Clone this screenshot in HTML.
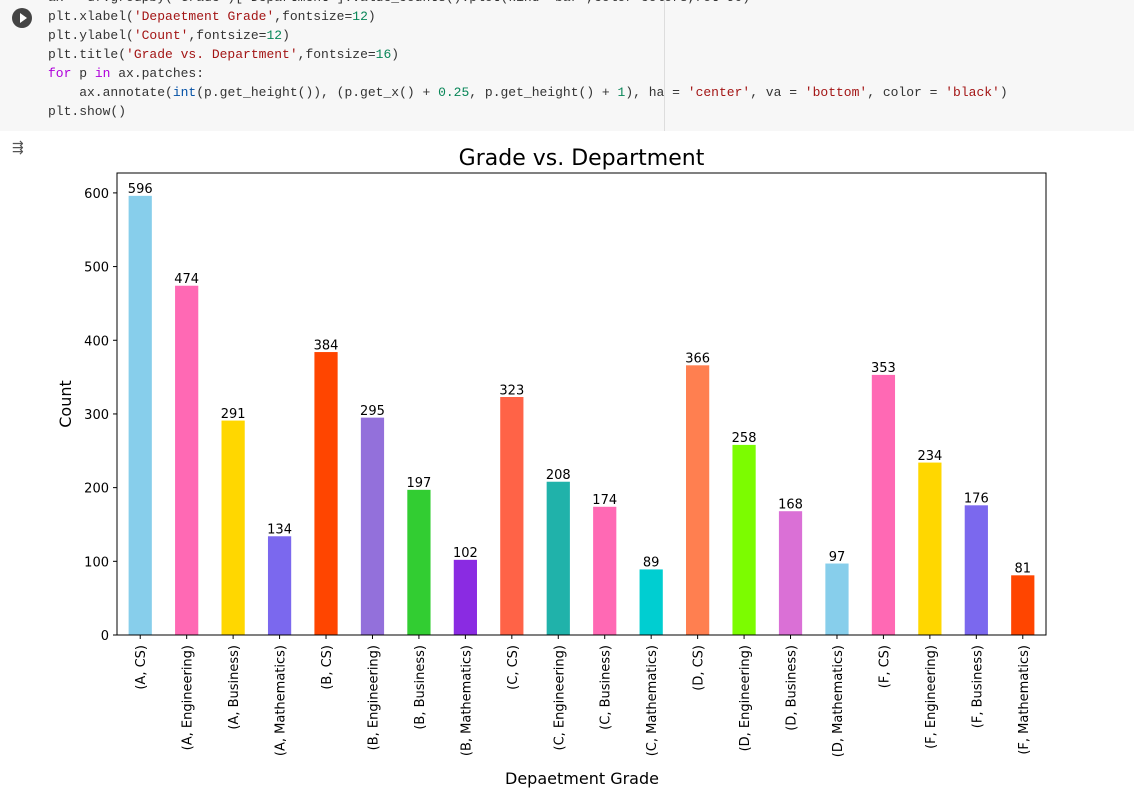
<!DOCTYPE html>
<html><head><meta charset="utf-8"><style>
body{margin:0;width:1134px;height:803px;background:#fff;overflow:hidden;position:relative;font-family:"DejaVu Sans","Liberation Sans",sans-serif}
#code{position:absolute;left:0;top:0;width:1134px;height:131px;background:#f7f7f7}
#code pre{margin:0;position:absolute;left:48px;top:-12px;font:13px/19px "Liberation Mono","DejaVu Sans Mono",monospace;color:#333}
.s{color:#a31515}.n{color:#098658}.k{color:#af00db}.b{color:#0451a5}
#vline{position:absolute;left:664px;top:0;width:1px;height:131px;background:#ddd}
#run{position:absolute;left:12px;top:8px;width:20px;height:20px;border-radius:50%;background:#444}
#run:after{content:"";position:absolute;left:8px;top:5px;border-left:7px solid #fff;border-top:5px solid transparent;border-bottom:5px solid transparent}
#outicon{position:absolute;left:12px;top:140px;font-size:14px;color:#555}
svg{position:absolute;left:0;top:0}
</style></head><body>
<div id="code"><pre>ax = df.groupby('Grade')['Department'].value_counts().plot(kind='bar',color=colors,rot=90)
plt.xlabel(<span class="s">'Depaetment Grade'</span>,fontsize=<span class="n">12</span>)
plt.ylabel(<span class="s">'Count'</span>,fontsize=<span class="n">12</span>)
plt.title(<span class="s">'Grade vs. Department'</span>,fontsize=<span class="n">16</span>)
<span class="k">for</span> p <span class="k">in</span> ax.patches:
    ax.annotate(<span class="b">int</span>(p.get_height()), (p.get_x() + <span class="n">0.25</span>, p.get_height() + <span class="n">1</span>), ha = <span class="s">'center'</span>, va = <span class="s">'bottom'</span>, color = <span class="s">'black'</span>)
plt.show()</pre></div>
<div id="vline"></div>
<div id="run"></div>
<div id="outicon">⇶</div>
<svg id="chart" width="1134" height="803"></svg>
<script>
const categories=["(A, CS)","(A, Engineering)","(A, Business)","(A, Mathematics)","(B, CS)","(B, Engineering)","(B, Business)","(B, Mathematics)","(C, CS)","(C, Engineering)","(C, Business)","(C, Mathematics)","(D, CS)","(D, Engineering)","(D, Business)","(D, Mathematics)","(F, CS)","(F, Engineering)","(F, Business)","(F, Mathematics)"];
const values=[596,474,291,134,384,295,197,102,323,208,174,89,366,258,168,97,353,234,176,81];
const colors=["#87CEEB","#FF69B4","#FFD700","#7B68EE","#FF4500","#9370DB","#32CD32","#8A2BE2","#FF6347","#20B2AA","#FF69B4","#00CED1","#FF7F50","#7CFC00","#DA70D6","#87CEEB","#FF69B4","#FFD700","#7B68EE","#FF4500"];
const yTicks=[0,100,200,300,400,500,600];
const L=117,R=1046,T=173,B=635,yMax=627;
const svg=document.getElementById('chart');const NS="http://www.w3.org/2000/svg";
const y=v=>B-(B-T)*v/yMax;
const step=(R-L)/categories.length;
const x=i=>L+step*(i+0.5);
function mk(t,a,txt){const e=document.createElementNS(NS,t);for(const k in a)e.setAttribute(k,a[k]);if(txt!=null)e.textContent=txt;svg.appendChild(e);return e;}
let e;
e=mk('text',{x:(L+R)/2,y:165,'text-anchor':'middle','font-size':22,fill:'#000'},'Grade vs. Department');


values.forEach((v,i)=>{
 e=mk('rect',{x:x(i)-step/4,y:y(v),width:step/2,height:B-y(v),fill:colors[i]});
 
 
 e=mk('text',{x:x(i),y:y(v+1)-2,'text-anchor':'middle','font-size':13,fill:'#000'},String(v));
 
 
 mk('line',{x1:x(i),x2:x(i),y1:B,y2:B+4,stroke:'#000'});
 e=mk('text',{transform:`translate(${x(i)+5},${B+10}) rotate(-90)`,'text-anchor':'end','font-size':13,fill:'#000'},categories[i]);
 
 
});
yTicks.forEach(t=>{
 mk('line',{x1:L-4,x2:L,y1:y(t),y2:y(t),stroke:'#000'});
 e=mk('text',{x:L-8,y:y(t)+5,'text-anchor':'end','font-size':13,fill:'#000'},String(t));
 
 
});
e=mk('rect',{x:L,y:T,width:R-L,height:B-T,fill:'none',stroke:'#000','stroke-width':1});


e=mk('text',{transform:`translate(71,${(T+B)/2}) rotate(-90)`,'text-anchor':'middle','font-size':16,fill:'#000'},'Count');


e=mk('text',{x:582,y:784,'text-anchor':'middle','font-size':16,fill:'#000'},'Depaetment Grade');


</script>
</body></html>
